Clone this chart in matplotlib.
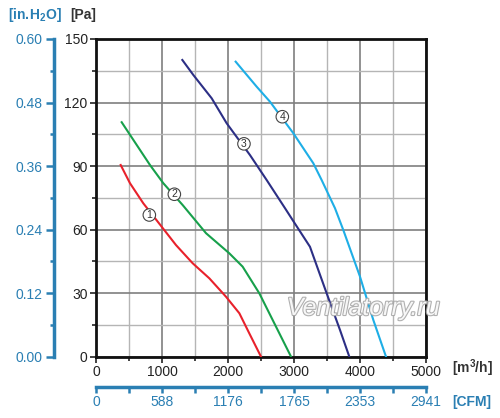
import matplotlib.pyplot as plt
import matplotlib.patheffects as pe

plt.rcParams['font.family'] = ['Liberation Sans', 'DejaVu Sans']
plt.rcParams['mathtext.fontset'] = 'custom'
plt.rcParams['mathtext.rm'] = 'Liberation Sans'
plt.rcParams['mathtext.bf'] = 'Liberation Sans:bold'

# curve data: airflow [m3/h], static pressure [Pa]
q1 = [374, 515, 717, 944, 1212, 1465, 1717, 1970, 2172, 2323, 2500]
p1 = [90.5, 81.9, 72.4, 63.4, 52.7, 44.1, 37.0, 28.3, 20.5, 11.0, 0]
q2 = [389, 616, 818, 1020, 1313, 1667, 2020, 2222, 2475, 2727, 2955]
p2 = [110.7, 100.0, 90.5, 81.9, 71.6, 58.3, 48.8, 42.5, 29.9, 14.2, 0]
q3 = [1308, 1475, 1753, 1980, 2333, 2586, 2864, 2990, 3242, 3495, 3697, 3838]
p3 = [140.1, 133.0, 122.0, 110.2, 95.2, 83.4, 70.1, 64.0, 51.9, 29.9, 12.6, 0]
q4 = [2116, 2434, 2636, 2990, 3293, 3419, 3621, 3747, 4000, 4202, 4394]
p4 = [139.3, 127.5, 120.4, 105.5, 91.3, 83.4, 70.1, 59.8, 37.8, 17.3, 0]

curve_names = ['1', '2', '3', '4']
curve_colors = ['#e8212b', '#17a04b', '#2c2f85', '#1eaee6']
label_q = [808, 1187, 2242, 2823]
label_p = [66.9, 76.7, 100.5, 113.3]

pa_ticks = [0, 30, 60, 90, 120, 150]
inh2o_labels = ['0.00', '0.12', '0.24', '0.36', '0.48', '0.60']
m3h_ticks = [0, 1000, 2000, 3000, 4000, 5000]
cfm_labels = ['0', '588', '1176', '1765', '2353', '2941']

blue = '#2a7fb3'
dark = '#222222'

fig = plt.figure(figsize=(5, 4.18), dpi=100)
ax = fig.add_axes([0.192, 0.1467, 0.66, 0.76])

for q, p, c in zip([q1, q2, q3, q4], [p1, p2, p3, p4], curve_colors):
    ax.plot(q, p, color=c, lw=1.5, zorder=3)

for name, x, y in zip(curve_names, label_q, label_p):
    ax.text(x, y, name, ha='center', va='center', fontsize=7.5, color='#333333', zorder=5,
            bbox=dict(boxstyle='circle,pad=0.12', fc='white', ec='#444444', lw=0.8))

ax.set_xlim(0, 5000)
ax.set_ylim(0, 150)
ax.set_xticks(m3h_ticks)
ax.set_yticks(pa_ticks)
ax.set_xticks(range(500, 5000, 1000), minor=True)
ax.set_yticks(range(15, 150, 30), minor=True)
ax.grid(True, which='major', color='#7f7f7f', lw=1.2, zorder=1)
ax.grid(True, which='minor', color='#b5b5b5', lw=1.0, zorder=1)
ax.tick_params(which='both', direction='out', length=4, width=1.2, colors='#222222',
               labelsize=10, labelcolor=dark, pad=2)
ax.tick_params(which='minor', length=3)
for s in ax.spines.values():
    s.set_linewidth(2)
    s.set_color('#111111')

# secondary axes
ay = ax.secondary_yaxis(-0.127, functions=(lambda v: v * 0.004, lambda v: v / 0.004))
ay.set_yticks([t * 0.004 for t in pa_ticks], labels=inh2o_labels)
ay.set_yticks([0.06, 0.18, 0.30, 0.42, 0.54], minor=True)
ay.spines['left'].set_color(blue)
ay.spines['left'].set_linewidth(2.5)
ay.tick_params(which='both', colors=blue, labelcolor=blue, labelsize=10, width=1.8, pad=2)
ay.tick_params(which='major', length=6)
ay.tick_params(which='minor', length=3)

ax2 = ax.secondary_xaxis(-0.0944, functions=(lambda v: v * 0.588235, lambda v: v / 0.588235))
ax2.set_xticks([t * 0.588235 for t in m3h_ticks], labels=cfm_labels)
ax2.set_xticks([t * 0.588235 for t in range(500, 5000, 1000)], minor=True)
ax2.spines['bottom'].set_color(blue)
ax2.spines['bottom'].set_linewidth(2.5)
ax2.tick_params(which='both', colors=blue, labelcolor=blue, labelsize=10, width=1.8, length=4, pad=2)

# unit labels
fig.text(8 / 500, 1 - 15 / 418, r'$\mathbf{[in.\!H_2O]}$', color=blue, fontsize=10,
         va='center', ha='left')
fig.text(70 / 500, 1 - 15 / 418, '[Pa]', color='#333333', fontsize=10,
         fontweight='bold', va='center', ha='left')
fig.text(452 / 500, 1 - 368 / 418, r'$\mathbf{[m^3/h]}$', color='#333333', fontsize=10,
         va='center', ha='left')
fig.text(452 / 500, 1 - 402 / 418, '[CFM]', color=blue, fontsize=10,
         fontweight='bold', va='center', ha='left')

# watermark
ax.text(4050, 23, 'Ventilatorry.ru', fontsize=18, style='italic', ha='center', va='center',
        color='white', alpha=0.9, zorder=4, clip_on=False,
        path_effects=[pe.Stroke(linewidth=1.6, foreground='#a8a8a8'), pe.Normal()])

plt.savefig('out.png', dpi=100)
